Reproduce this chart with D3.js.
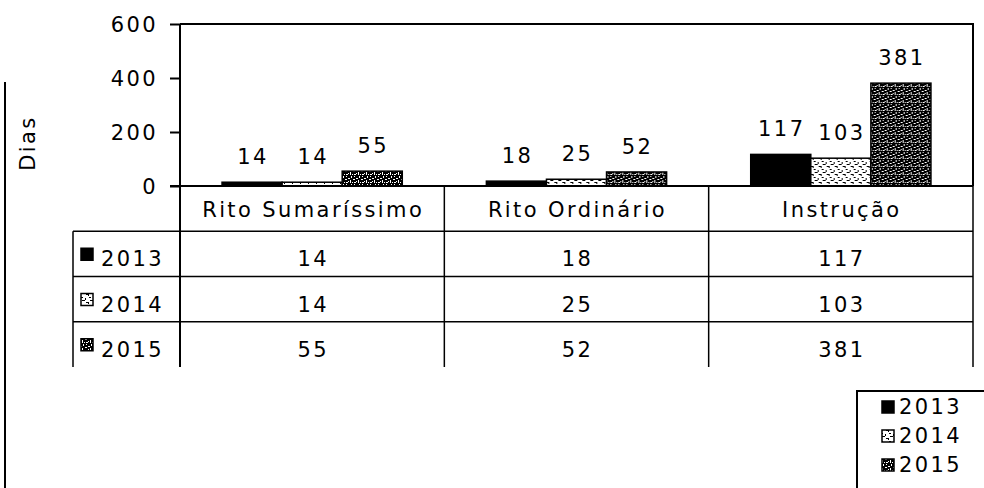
<!DOCTYPE html>
<html>
<head>
<meta charset="utf-8">
<script src="https://cdn.jsdelivr.net/npm/d3@7"></script>
<style>
  body { margin: 0; background: #fff; }
  text { font-family: "DejaVu Sans", sans-serif; font-size: 21px; letter-spacing: 2.4px; fill: #000; }
</style>
</head>
<body>
<div id="chart"></div>
<script>
// data
var categories = ["Rito Sumaríssimo", "Rito Ordinário", "Instrução"];
var years = ["2013", "2014", "2015"];
var v2013 = [14, 18, 117];
var v2014 = [14, 25, 103];
var v2015 = [55, 52, 381];
var yTicks = [0, 200, 400, 600];

var series = [v2013, v2014, v2015];

var W = 984, H = 488;
var plotL = 180, plotR = 973, plotT = 24, base = 186, tableBottom = 367;

var svg = d3.select("#chart").append("svg")
  .attr("width", W).attr("height", H);

// fill patterns (black & white print look)
var defs = svg.append("defs");
var p14 = defs.append("pattern").attr("id", "p2014")
  .attr("width", 8).attr("height", 8).attr("patternUnits", "userSpaceOnUse");
p14.append("rect").attr("width", 8).attr("height", 8).attr("fill", "#fff");
[[1,1,2,1],[5,2,1,2],[2,4,3,1],[6,6,2,1],[0,6,1,2]].forEach(function(r){
  p14.append("rect").attr("x", r[0]).attr("y", r[1]).attr("width", r[2]).attr("height", r[3]).attr("fill", "#000");
});
var p15 = defs.append("pattern").attr("id", "p2015")
  .attr("width", 8).attr("height", 8).attr("patternUnits", "userSpaceOnUse");
p15.append("rect").attr("width", 8).attr("height", 8).attr("fill", "#000");
[[0,2,2,1],[3,0,1,2],[5,3,2,1],[2,4,1,3],[6,6,2,1],[4,6,1,1],[0,5,1,1],[6,0,1,1]].forEach(function(r){
  p15.append("rect").attr("x", r[0]).attr("y", r[1]).attr("width", r[2]).attr("height", r[3]).attr("fill", "#fff");
});
var fills = { "2013": "#000", "2014": "url(#p2014)", "2015": "url(#p2015)" };

// scales
var x0 = d3.scaleBand().domain(categories).range([plotL, plotR]);
var x1 = d3.scaleBand().domain(years).range([0, x0.bandwidth()]).paddingInner(0).paddingOuter(0.7);
var y = d3.scaleLinear().domain([0, 600]).range([base, plotT]);

// outer chart border on the left
svg.append("line").attr("x1", 5).attr("x2", 5).attr("y1", 82).attr("y2", H)
  .attr("stroke", "#000").attr("stroke-width", 2);

// plot frame (top and right)
svg.append("path")
  .attr("d", "M" + plotL + "," + plotT + "H" + plotR + "V" + base)
  .attr("fill", "none").attr("stroke", "#000").attr("stroke-width", 2);

// y axis
var yAxis = svg.append("g").attr("transform", "translate(" + plotL + ",0)")
  .call(d3.axisLeft(y).tickValues(yTicks).tickSize(10).tickPadding(12).tickFormat(d3.format("d")));
yAxis.select(".domain").attr("stroke-width", 2).attr("d", "M0," + plotT + "V" + tableBottom);
yAxis.selectAll(".tick line").attr("stroke-width", 2);
yAxis.selectAll(".tick text").attr("font-size", null).attr("font-family", null).attr("dy", "0.36em");

svg.append("text")
  .attr("transform", "translate(35,143) rotate(-90)")
  .attr("text-anchor", "middle").text("Dias");

// bars
var groups = svg.selectAll(".grp").data(categories).enter().append("g")
  .attr("class", "grp")
  .attr("transform", function(d) { return "translate(" + x0(d) + ",0)"; });

groups.selectAll("rect").data(function(d, i) {
    return years.map(function(yr, j) { return { year: yr, value: series[j][i] }; });
  }).enter().append("rect")
  .attr("x", function(d) { return x1(d.year); })
  .attr("y", function(d) { return y(d.value); })
  .attr("width", x1.bandwidth())
  .attr("height", function(d) { return base - y(d.value); })
  .attr("fill", function(d) { return fills[d.year]; })
  .attr("stroke", "#000").attr("stroke-width", 1.5);

groups.selectAll(".lbl").data(function(d, i) {
    return years.map(function(yr, j) { return { year: yr, value: series[j][i] }; });
  }).enter().append("text")
  .attr("class", "lbl")
  .attr("x", function(d) { return x1(d.year) + x1.bandwidth() / 2 + 1; })
  .attr("y", function(d) { return y(d.value) - 18; })
  .attr("text-anchor", "middle")
  .text(function(d) { return d.value; });

// x axis baseline
svg.append("line").attr("x1", plotL - 10).attr("x2", plotR)
  .attr("y1", base).attr("y2", base).attr("stroke", "#000").attr("stroke-width", 2);

// data table
var rows = d3.scaleBand().domain(["cat"].concat(years)).range([base, tableBottom]);
var tableLeft = 73;
var tbl = svg.append("g");

// horizontal rules
years.forEach(function(yr) {
  tbl.append("line").attr("x1", tableLeft).attr("x2", plotR)
    .attr("y1", rows(yr)).attr("y2", rows(yr))
    .attr("stroke", "#000").attr("stroke-width", 1.5);
});
// vertical rules
[tableLeft].concat(categories.slice(1).map(function(c) { return x0(c); })).concat([plotR]).forEach(function(xv) {
  tbl.append("line").attr("x1", xv).attr("x2", xv)
    .attr("y1", (xv === tableLeft) ? rows("2013") : base).attr("y2", tableBottom)
    .attr("stroke", "#000").attr("stroke-width", 1.5);
});

// category headers
tbl.selectAll(".cat").data(categories).enter().append("text")
  .attr("x", function(d) { return x0(d) + x0.bandwidth() / 2 + 1; })
  .attr("y", rows("cat") + 31)
  .attr("text-anchor", "middle")
  .text(function(d) { return d; });

// row headers with keys
years.forEach(function(yr, j) {
  var ry = rows(yr);
  tbl.append("rect").attr("x", 81).attr("y", ry + 17).attr("width", 12).attr("height", 12)
    .attr("fill", fills[yr]).attr("stroke", "#000").attr("stroke-width", 1.5);
  tbl.append("text").attr("x", 101).attr("y", ry + 35).text(yr);
  tbl.selectAll(".v" + yr).data(series[j]).enter().append("text")
    .attr("x", function(d, i) { return x0(categories[i]) + x0.bandwidth() / 2 + 1; })
    .attr("y", ry + 35)
    .attr("text-anchor", "middle")
    .text(function(d) { return d; });
});

// legend
var lg = svg.append("g");
lg.append("path").attr("d", "M857,488V391H" + W)
  .attr("fill", "none").attr("stroke", "#000").attr("stroke-width", 2);
years.forEach(function(yr, j) {
  var ly = 407 + j * 29;
  lg.append("rect").attr("x", 882).attr("y", ly - 6).attr("width", 12).attr("height", 12)
    .attr("fill", fills[yr]).attr("stroke", "#000").attr("stroke-width", 1.5);
  lg.append("text").attr("x", 899).attr("y", ly + 7).text(yr);
});
</script>
</body>
</html>
